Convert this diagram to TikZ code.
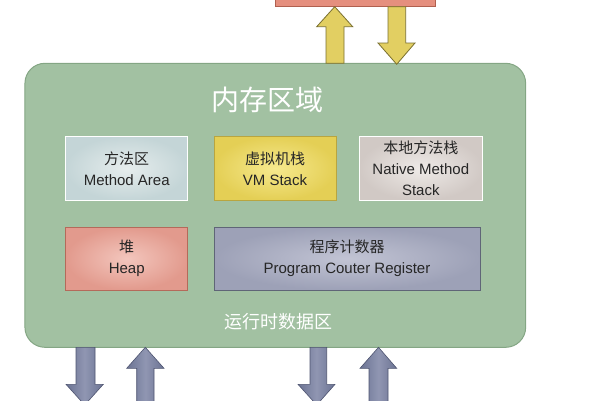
\documentclass[tikz,border=0pt]{standalone}
\usepackage{fontspec}
\setmainfont{Liberation Sans}
\newfontfamily\cjk{Noto Sans CJK SC}
\definecolor{memgreen}{HTML}{A2C1A2}
\definecolor{memgreenedge}{HTML}{84A684}
\definecolor{topred}{HTML}{E58F7E}
\definecolor{topredge}{HTML}{B0604F}
\definecolor{yarrow}{HTML}{E2CF62}
\definecolor{yarrowedge}{HTML}{7A7030}
\definecolor{barrow}{HTML}{6B7393}
\definecolor{barrowlight}{HTML}{9096B2}
\definecolor{barrowedge}{HTML}{4E5470}
\definecolor{mainner}{HTML}{E6EDED}
\definecolor{maouter}{HTML}{C4D5D7}
\definecolor{vminner}{HTML}{F6E98E}
\definecolor{vmouter}{HTML}{E4CF55}
\definecolor{vmedge}{HTML}{B8A540}
\definecolor{nminner}{HTML}{EEEAE7}
\definecolor{nmouter}{HTML}{D1C9C5}
\definecolor{hpinner}{HTML}{F3C6BD}
\definecolor{hpouter}{HTML}{E29A8D}
\definecolor{hpedge}{HTML}{B46A5A}
\definecolor{pcinner}{HTML}{C2C4D4}
\definecolor{pcouter}{HTML}{9DA1B7}
\definecolor{pcedge}{HTML}{5F6577}
\tikzset{
  memarea/.style={draw=memgreenedge, line width=1pt, fill=memgreen, rounded corners=20pt},
  areabox/.style={minimum width=122pt, minimum height=64pt, align=center, inner sep=0pt,
     text=black!85, font=\fontsize{15}{21}\selectfont},
  yarr/.style={draw=yarrowedge, line width=0.8pt, fill=yarrow},
  barr/.style={draw=barrowedge, line width=0.6pt, left color=barrow, right color=barrow, middle color=barrowlight},
  bigtitle/.style={text=white, font=\cjk\fontsize{28}{30}\selectfont},
  subtitle/.style={text=white, font=\cjk\fontsize{18}{20}\selectfont}
}
\begin{document}
\begin{tikzpicture}[x=1pt,y=-1pt]
\useasboundingbox (0,0) rectangle (600,400);
\clip (0,0) rectangle (600,400);
% top red box
\node[draw=topredge, fill=topred, line width=0.8pt, minimum width=160pt, minimum height=20pt, inner sep=0pt] (top) at (355,-3.3) {};
% memory area
\node[memarea, minimum width=500.7pt, minimum height=284pt, inner sep=0pt] (mem) at (275.3,205.3) {};
\node[bigtitle] (title) at (267,100) {内存区域};
\node[subtitle] (rt) at (278,322) {运行时数据区};
% top arrows
\draw[yarr] (326,63.3) -- (326,26.7) -- (316.7,26.7) -- (334.7,6.7) -- (352.7,26.7) -- (344,26.7) -- (344,63.3) -- cycle;
\draw[yarr] (388,6.7) -- (388,43) -- (378,43) -- (396.7,64.3) -- (415,43) -- (405.7,43) -- (405.7,6.7) -- cycle;
% inner boxes
\node[areabox, draw=white, line width=1.5pt, inner color=mainner, outer color=maouter] (ma) at (126.7,168.3)
  {{\cjk 方法区}\\Method Area};
\node[areabox, draw=vmedge, line width=0.6pt, inner color=vminner, outer color=vmouter] (vm) at (275,168.3)
  {{\cjk 虚拟机栈}\\VM Stack};
\node[areabox, draw=white, line width=1.5pt, minimum width=123pt, inner color=nminner, outer color=nmouter] (nm) at (420.8,168.3)
  {{\cjk 本地方法栈}\\Native Method\\Stack};
\node[areabox, draw=hpedge, line width=0.6pt, minimum height=63pt, inner color=hpinner, outer color=hpouter] (heap) at (126.7,258.5)
  {{\cjk 堆}\\Heap};
\node[areabox, draw=pcedge, line width=0.6pt, minimum width=266pt, minimum height=63pt, inner color=pcinner, outer color=pcouter] (pc) at (347,258.5)
  {{\cjk 程序计数器}\\Program Couter Register};
% bottom arrows
\draw[barr] (76,347.3) -- (76,384.3) -- (66,384.3) -- (84.7,405) -- (103.3,384.3) -- (95,384.3) -- (95,347.3) -- cycle;
\draw[barr] (136.7,410) -- (136.7,368.3) -- (126.7,368.3) -- (145.3,347.3) -- (164,368.3) -- (154,368.3) -- (154,410) -- cycle;
\draw[barr] (310,347.3) -- (310,384.3) -- (298,384.3) -- (316.7,405) -- (335,384.3) -- (326.7,384.3) -- (326.7,347.3) -- cycle;
\draw[barr] (369,410) -- (369,368.3) -- (360,368.3) -- (378.5,347.3) -- (396.7,368.3) -- (388,368.3) -- (388,410) -- cycle;
\end{tikzpicture}
\end{document}
